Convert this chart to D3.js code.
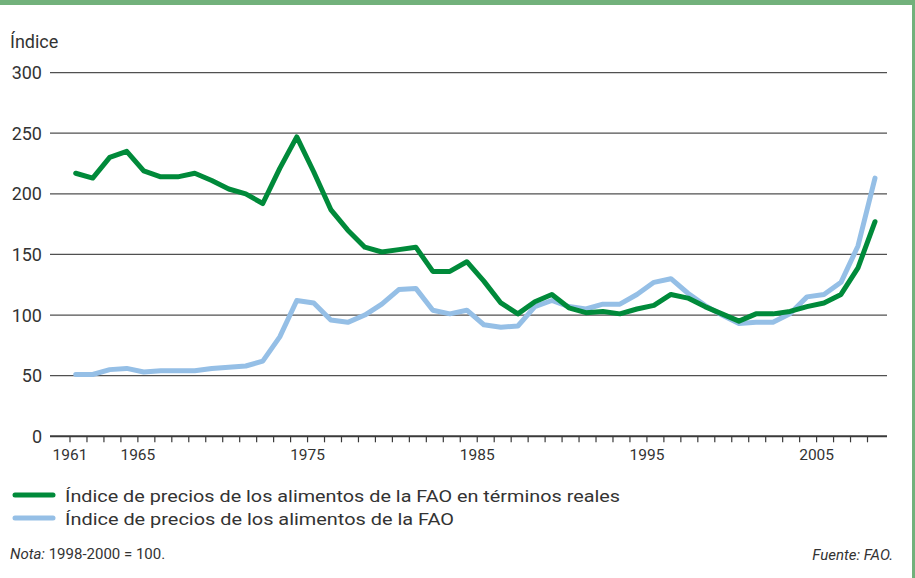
<!DOCTYPE html>
<html>
<head>
<meta charset="utf-8">
<script src="https://cdn.jsdelivr.net/npm/d3@7"></script>
<style>
  body { margin: 0; background: #fff; }
  svg { display: block; font-family: Roboto, "Open Sans", sans-serif; }
</style>
</head>
<body>
<div class="content"></div>
<script>
// years 1961-2008
var years = d3.range(1961, 2009);

// FAO food price index in real terms
var realIndex = [217, 213, 230, 235, 219, 214, 214, 217, 211, 204, 200, 192, 221, 247, 218, 187,
  170, 156, 152, 154, 156, 136, 136, 144, 128, 110, 101, 111, 117, 106, 102, 103,
  101, 105, 108, 117, 114, 107, 101, 95, 101, 101, 103, 107, 110, 117, 139, 177];

// FAO food price index (nominal)
var nominalIndex = [51, 51, 55, 56, 53, 54, 54, 54, 56, 57, 58, 62, 82, 112, 110, 96,
  94, 100, 109, 121, 122, 104, 101, 104, 92, 90, 91, 107, 112, 107, 105, 109,
  109, 117, 127, 130, 118, 108, 100, 93, 94, 94, 101, 115, 117, 127, 157, 213];

var yTicks = [0, 50, 100, 150, 200, 250, 300];
var xLabels = [1961, 1965, 1975, 1985, 1995, 2005];
var legendNames = ["Índice de precios de los alimentos de la FAO en términos reales",
  "Índice de precios de los alimentos de la FAO"];
var colors = ["#008a3a", "#95bfe6"];

var width = 915, height = 578;

var svg = d3.select('.content').append('svg')
    .attr('width', width)
    .attr('height', height);

// frame
svg.append('rect').attr('x', 0).attr('y', 0).attr('width', width).attr('height', 5).attr('fill', '#72b17b');
svg.append('rect').attr('x', 912).attr('y', 0).attr('width', 3).attr('height', height).attr('fill', '#72b17b');

var x = d3.scaleLinear().domain([1961, 2008]).range([75.7, 875]);
var xTick = d3.scaleLinear().domain([1961, 2008]).range([69.5, 867]);
var y = d3.scaleLinear().domain([0, 300]).range([436.3, 72.6]);

// grid lines
svg.append('g').selectAll('line')
    .data(yTicks)
    .enter().append('line')
    .attr('x1', 50).attr('x2', 887)
    .attr('y1', function(d) { return y(d); })
    .attr('y2', function(d) { return y(d); })
    .attr('stroke', function(d) { return d === 0 ? '#3a3a3a' : '#505050'; })
    .attr('stroke-width', function(d) { return d === 0 ? 2 : 1.3; });

// y labels
svg.append('g').selectAll('text')
    .data(yTicks)
    .enter().append('text')
    .attr('x', 42)
    .attr('y', function(d) { return y(d) + 6.5; })
    .attr('text-anchor', 'end')
    .attr('font-size', 18)
    .attr('fill', '#333')
    .text(function(d) { return d; });

svg.append('text')
    .attr('x', 10).attr('y', 48)
    .attr('font-size', 18)
    .attr('fill', '#333')
    .text('Índice');

// x axis ticks
var xAxis = d3.axisBottom(xTick)
    .tickValues(years)
    .tickSize(6)
    .tickFormat(function(d) { return xLabels.indexOf(d) >= 0 ? d : ''; });

var gx = svg.append('g')
    .attr('transform', 'translate(0,' + y(0) + ')')
    .call(xAxis);
gx.select('.domain').remove();
gx.selectAll('line').attr('stroke', '#3a3a3a').attr('stroke-width', 1.2);
gx.selectAll('text')
    .attr('font-size', 15.5)
    .attr('font-family', 'Roboto, sans-serif')
    .attr('fill', '#333')
    .attr('dy', '0.85em')
    .attr('y', 11);

// lines
var line = d3.line()
    .x(function(d, i) { return x(years[i]); })
    .y(function(d) { return y(d); });

[nominalIndex, realIndex].forEach(function(series, k) {
    svg.append('path')
        .datum(series)
        .attr('d', line)
        .attr('fill', 'none')
        .attr('stroke', k === 0 ? colors[1] : colors[0])
        .attr('stroke-width', 5)
        .attr('stroke-linejoin', 'round')
        .attr('stroke-linecap', 'round');
});

// legend
var legendY = [495, 518];
var legendW = [555, 389];
legendNames.forEach(function(name, i) {
    svg.append('line')
        .attr('x1', 15).attr('x2', 53)
        .attr('y1', legendY[i]).attr('y2', legendY[i])
        .attr('stroke', colors[i])
        .attr('stroke-width', 5)
        .attr('stroke-linecap', 'round');
    svg.append('text')
        .attr('x', 65).attr('y', legendY[i] + 6.5)
        .attr('font-size', 17)
        .attr('fill', '#333')
        .attr('textLength', legendW[i])
        .attr('lengthAdjust', 'spacingAndGlyphs')
        .text(name);
});

// notes
var nota = svg.append('text')
    .attr('x', 10).attr('y', 559)
    .attr('font-size', 15)
    .attr('fill', '#333');
nota.append('tspan').attr('font-style', 'italic').text('Nota:');
nota.append('tspan').text(' 1998-2000 = 100.');

svg.append('text')
    .attr('x', 893).attr('y', 560)
    .attr('text-anchor', 'end')
    .attr('font-size', 15)
    .attr('font-style', 'italic')
    .attr('fill', '#333')
    .text('Fuente: FAO.');
</script>
</body>
</html>
